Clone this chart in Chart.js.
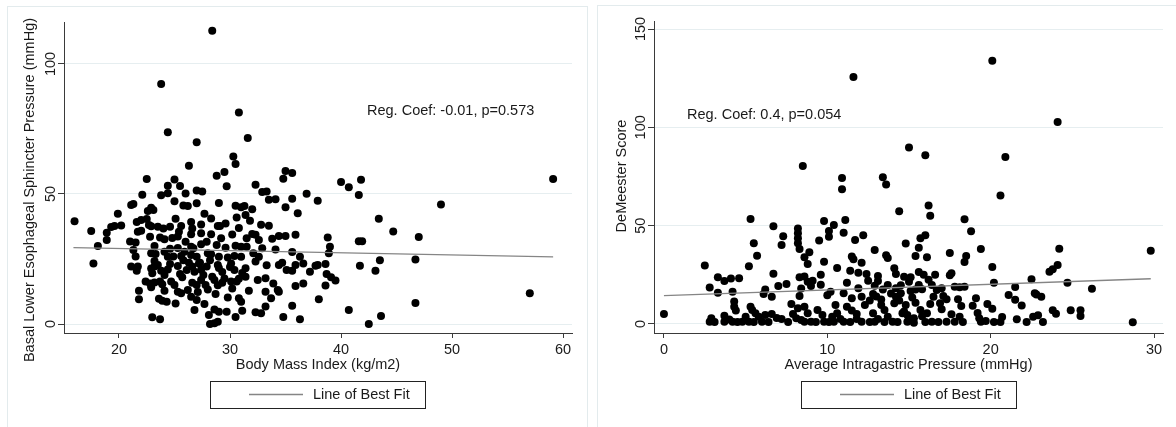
<!DOCTYPE html>
<html>
<head>
<meta charset="utf-8">
<script src="https://cdn.jsdelivr.net/npm/chart.js@4.4.1/dist/chart.umd.min.js"></script>
<style>
  html, body { margin: 0; padding: 0; background: #fff; }
  #wrap { position: relative; width: 1176px; height: 427px; overflow: hidden; }
  .frame { position: absolute; box-sizing: border-box; border: 1px solid #e3ebed; height: 460px; }
  canvas { position: absolute; top: 0; }
</style>
</head>
<body>
<div id="wrap">
  <div class="frame" style="left:7px;top:6px;width:581px"></div>
  <div class="frame" style="left:597px;top:5px;width:620px"></div>
  <canvas id="bmiChart" width="588" height="427" style="left:0"></canvas>
  <canvas id="pressureChart" width="586" height="427" style="left:590px"></canvas>
</div>
<script>
// BMI vs basal LES pressure
var bmi = [16.0,17.5,17.7,18.1,18.9,18.9,19.3,19.6,19.9,20.2,21.1,21.3,21.6,22.0,22.5,22.0,22.7,22.9,23.5,24.0,
  24.6,25.1,25.6,26.5,26.6,27.4,27.7,28.3,28.9,29.1,29.6,30.6,30.8,21.7,21.0,21.5,22.8,23.2,23.7,24.1,
  24.8,25.3,26.5,27.4,28.3,27.4,26.5,26.7,28.8,29.6,30.5,31.0,21.3,21.5,22.9,23.3,24.1,24.4,24.9,25.3,
  25.6,25.9,26.5,27.0,27.2,28.0,28.3,29.0,29.8,30.4,31.0,21.1,21.6,21.7,22.9,23.2,23.5,23.8,24.1,24.6,
  25.3,25.5,26.3,26.6,26.8,27.3,27.4,27.9,28.4,28.9,29.0,29.3,30.1,30.4,30.8,31.1,22.4,22.8,22.9,23.2,
  23.7,23.9,24.1,24.7,25.0,25.3,25.6,25.7,26.2,26.6,27.0,27.4,27.8,28.0,28.6,28.9,29.3,30.1,30.2,30.6,
  30.8,31.0,21.8,21.8,23.6,23.9,24.3,25.1,26.5,27.0,26.8,27.7,28.6,29.0,29.7,28.1,30.5,23.0,23.7,28.2,
  28.6,28.9,28.4,23.8,24.4,27.0,30.8,31.6,30.3,30.5,26.3,28.8,29.5,22.5,25.0,24.4,25.5,26.0,27.0,27.5,
  29.7,22.1,23.8,24.4,25.0,25.8,26.2,27.0,29.0,30.5,31.0,22.9,23.1,22.6,35.0,35.6,34.8,32.3,32.9,33.3,
  33.5,34.1,35.6,36.9,37.9,35.0,36.1,40.0,40.7,41.8,41.6,43.4,44.7,47.0,31.3,32.0,31.4,31.8,33.5,32.0,
  32.3,32.6,33.8,34.4,35.0,35.9,38.8,39.0,38.9,41.6,41.9,31.5,32.9,34.1,35.6,36.3,32.1,32.6,32.3,33.3,
  34.4,34.7,35.1,35.9,36.6,35.6,37.2,37.7,37.9,38.6,38.7,39.1,39.5,41.7,43.5,43.1,46.7,31.4,31.4,32.5,
  33.2,33.9,34.3,34.4,33.2,33.7,31.7,35.9,36.6,38.6,38.0,35.6,33.2,32.3,32.8,31.1,34.8,36.3,40.7,42.5,
  43.6,46.7,49.0,57.0,59.1,23.0,24.4,25.8,26.1,27.6,28.2,29.5,24.6,27.9,29.2,30.2,25.4,23.2,26.0,28.7,
  27.1,29.8,30.0,31.5,32.8]
var lesPressure = [39.5,35.8,23.3,30.0,35.1,32.3,37.3,37.7,42.4,37.9,45.8,46.2,39.2,40.0,40.4,35.9,38.1,37.6,37.4,36.7,
  37.4,40.5,37.7,39.2,36.7,38.3,42.4,40.6,37.7,37.7,38.7,41.0,36.9,35.5,31.7,31.3,33.6,30.0,33.3,32.6,
  33.1,33.7,34.5,34.9,34.5,30.7,29.7,29.1,30.4,29.3,30.1,29.7,28.5,26.0,27.2,26.9,27.8,25.9,26.0,29.2,
  26.2,27.8,26.5,25.9,23.3,27.2,26.8,25.9,25.6,26.2,25.9,22.1,20.5,22.1,21.3,22.1,22.7,20.5,18.8,23.1,
  22.3,19.2,23.6,22.1,20.1,23.6,20.9,22.1,18.2,22.7,21.5,20.0,23.3,20.8,17.4,19.6,16.3,15.6,14.1,16.0,
  16.3,15.3,12.8,16.3,15.0,12.4,11.8,18.0,13.1,15.9,15.0,16.9,15.0,13.3,16.9,14.9,15.9,16.3,13.7,16.3,
  9.9,8.6,12.8,9.5,9.7,8.9,8.6,7.9,10.5,9.2,5.4,7.7,5.6,4.7,4.7,3.5,2.7,2.6,1.8,0.0,
  0.3,0.9,112.8,92.3,73.7,69.9,81.3,71.5,64.4,61.5,60.9,57.0,58.5,55.8,55.6,53.2,53.1,50.2,51.3,51.0,
  53.0,49.7,49.5,50.3,47.2,45.6,45.4,46.4,46.5,45.5,44.9,44.7,43.8,43.5,58.8,58.1,55.9,53.6,50.8,51.0,
  47.8,48.0,48.2,50.1,47.4,44.9,42.6,54.6,52.6,55.5,49.6,40.5,35.6,33.5,45.4,44.1,41.9,39.7,37.8,34.6,
  34.3,32.3,32.8,33.8,33.8,34.3,33.3,29.7,27.2,31.8,31.8,29.7,29.1,28.7,27.7,25.9,27.2,25.9,24.0,22.6,
  22.7,23.6,20.8,22.7,23.3,20.5,20.1,22.4,22.7,23.1,19.2,18.0,16.7,22.4,24.5,20.5,24.8,21.4,18.2,16.9,
  17.6,15.6,13.1,12.4,12.4,9.9,12.8,14.6,15.6,14.8,9.5,7.0,6.7,4.5,4.1,5.1,2.7,1.8,5.4,0.0,
  3.1,8.1,46.0,11.8,55.8,19.5,21.0,24.5,20.8,18.8,24.5,17.5,28.9,31.6,33.0,34.4,35.5,24.2,31.6,11.5,
  12.3,10.2,21.9,33.0,38.2]
var bmiFit = [15.9, 59.1]
var lesFit = [29.4, 25.8]
var bmiTicks = [20, 30, 40, 50, 60]
var lesTicks = [0, 50, 100]

// average intragastric pressure vs DeMeester score
var gastricPressure = [0.0,2.5,2.8,2.8,2.9,3.3,3.3,3.7,4.1,4.6,4.2,4.3,4.3,4.4,3.7,3.7,4.2,4.8,5.0,5.3,
  5.4,5.6,5.2,5.8,6.0,6.2,6.6,7.2,5.2,5.5,5.7,5.3,6.7,7.3,7.2,6.7,7.5,7.0,6.2,6.1,
  6.6,8.2,8.2,8.2,8.2,8.3,8.5,8.6,8.9,8.8,9.8,10.1,10.4,11.1,11.0,10.1,9.5,11.7,12.2,12.9,
  10.9,10.9,13.4,13.6,14.4,11.6,9.8,10.6,11.5,11.6,12.1,13.6,13.7,8.3,8.6,8.8,9.1,9.0,8.3,8.4,
  9.6,9.6,10.0,10.2,11.2,11.0,11.4,11.9,12.4,12.5,13.1,13.1,13.7,14.1,14.2,14.2,11.9,12.1,12.8,11.5,
  14.2,7.8,8.2,7.9,8.1,8.6,8.8,8.6,9.0,9.4,9.7,9.8,10.3,10.5,10.6,10.4,11.0,11.2,11.5,11.8,
  12.1,12.3,12.8,12.9,13.3,13.5,13.7,14.1,14.0,14.6,16.0,20.9,20.6,16.2,16.3,18.4,18.8,15.0,20.1,24.1,
  14.8,15.6,15.7,16.0,15.4,16.1,17.5,18.5,18.4,19.4,20.1,24.2,24.1,23.8,23.6,29.8,15.6,15.9,15.1,16.6,
  17.5,17.6,20.2,22.5,24.7,26.2,14.5,15.1,15.6,15.8,16.4,16.7,17.0,17.8,18.1,18.4,14.5,16.5,17.1,17.3,
  18.0,19.1,21.1,21.5,21.5,21.9,22.7,22.8,23.1,15.4,14.8,16.3,16.9,18.2,18.9,19.8,20.1,17.0,17.6,18.1,
  19.2,19.3,19.7,20.7,20.6,21.6,22.6,22.9,23.2,23.8,24.0,24.9,25.5,25.5,28.7,14.7,14.9,15.3,15.7,15.8,
  16.1,16.4,17.3,17.8,19.4,14.9,15.3,3.1,4.0,4.5,5.5,6.4,6.9,7.6,8.4,9.3,10.1,10.8,11.4,11.8,
  12.6,13.1,13.5,14.3,15.0,16.0,16.8,18.3,20.2,22.2,12.6,13.0,13.3,13.9,14.4,15.2,15.0,13.4,12.9,14.7,
  15.4,16.2]
var demeester = [5.1,29.7,18.6,1.2,2.9,23.8,15.9,21.9,23.1,23.2,16.4,11.4,8.8,6.8,4.2,1.2,1.2,1.2,3.7,8.8,
  7.1,5.4,1.2,3.7,1.2,4.6,5.1,2.5,29.3,41.0,34.7,53.4,49.7,44.6,40.2,25.6,20.3,19.3,17.6,15.3,
  13.9,48.5,46.1,43.6,41.0,38.1,80.4,33.9,36.5,30.5,52.4,47.3,50.4,52.9,46.4,44.4,42.4,42.7,45.1,37.6,
  74.3,68.5,74.6,70.9,57.3,125.6,31.7,28.5,34.3,32.9,31.2,34.9,33.6,23.8,24.2,21.5,22.0,19.3,14.2,18.1,
  25.1,20.0,14.6,16.4,21.0,15.6,27.1,26.1,25.4,22.0,24.4,21.9,19.8,28.3,25.4,18.2,18.2,13.9,15.3,13.1,
  13.9,10.2,8.0,5.1,2.9,8.8,5.4,1.2,1.2,7.1,4.6,1.2,3.7,9.7,5.4,1.2,1.2,8.8,6.8,5.1,
  1.2,9.7,5.4,1.2,9.7,7.1,3.7,10.5,1.2,5.4,85.8,84.9,65.4,60.3,55.1,53.3,47.1,89.7,133.9,102.7,
  40.9,38.8,43.6,45.1,34.6,33.9,36.1,34.6,31.5,38.1,29.0,38.3,30.0,27.8,26.6,37.3,26.4,25.1,23.8,25.1,
  24.8,25.8,21.0,22.8,21.0,17.9,19.7,16.8,19.8,17.7,19.8,17.3,18.2,19.0,18.7,19.0,15.6,13.9,14.2,12.6,
  12.6,13.1,14.8,18.8,12.3,9.4,15.6,15.0,13.9,10.8,9.7,10.2,10.5,9.2,9.3,10.2,7.8,7.5,4.9,3.7,
  5.6,2.9,1.5,3.6,1.0,2.4,3.7,4.4,1.0,7.0,5.2,7.0,7.0,4.1,0.9,6.3,4.6,2.9,7.1,3.9,
  5.4,1.2,1.2,1.2,1.2,1.2,0.6,1.0,2.3,1.0,1.0,1.0,3.0,1.0,2.0,1.0,1.0,2.5,1.0,2.5,
  1.0,2.5,1.0,1.0,2.5,1.0,1.0,1.0,1.0,1.0,12.0,14.0,12.5,15.5,12.0,13.5,21.5,17.5,19.5,24.0,
  17.5,22.5]
var pressureFit = [0.0, 29.8]
var demeesterFit = [14.4, 23.0]
var pressureTicks = [0, 10, 20, 30]
var demeesterTicks = [0, 50, 100, 150]

var textColor = '#1a1a1a'
var axisColor = '#3a3a3a'
var gridColor = '#e6eef0'
var font = '14.5px "Liberation Sans", Arial, sans-serif'

Chart.defaults.font.family = '"Liberation Sans", Arial, sans-serif'
Chart.defaults.font.size = 14.5
Chart.defaults.color = textColor

function toPoints(xs, ys) {
  return xs.map(function (x, i) { return {x: x, y: ys[i]} })
}

// rotated y labels and y title, the regression note and the boxed legend
var panelText = {
  id: 'panelText',
  afterDraw: function (chart, args, opts) {
    var ctx = chart.ctx
    var area = chart.chartArea
    var sx = chart.scales.x
    var sy = chart.scales.y
    ctx.save()
    ctx.fillStyle = textColor
    ctx.font = font
    ctx.textAlign = 'center'
    ctx.textBaseline = 'middle'
    sy.ticks.forEach(function (t) {
      ctx.save()
      ctx.translate(area.left - 13, sy.getPixelForValue(t.value))
      ctx.rotate(-Math.PI / 2)
      ctx.fillText(String(t.value), 0, 0)
      ctx.restore()
    })
    ctx.save()
    ctx.translate(opts.titleX, opts.titleY)
    ctx.rotate(-Math.PI / 2)
    ctx.fillText(opts.yTitle, 0, 0)
    ctx.restore()

    ctx.textAlign = 'left'
    ctx.fillText(opts.note, sx.getPixelForValue(opts.noteAt[0]), sy.getPixelForValue(opts.noteAt[1]))

    var fit = chart.data.datasets[1]
    var cx = Math.round((area.left + area.right) / 2)
    var cy = area.bottom + 61.5
    ctx.strokeStyle = '#222'
    ctx.lineWidth = 1
    ctx.strokeRect(cx - 107.5, cy - 13, 215, 27)
    ctx.strokeStyle = fit.borderColor
    ctx.lineWidth = fit.borderWidth
    ctx.beginPath()
    ctx.moveTo(cx - 69, cy)
    ctx.lineTo(cx - 15, cy)
    ctx.stroke()
    ctx.fillText(fit.label, cx - 5, cy)
    ctx.restore()
  }
}

function scatterPanel(id, p) {
  return new Chart(document.getElementById(id), {
    type: 'scatter',
    data: {
      datasets: [{
        label: 'obs',
        data: toPoints(p.x, p.y),
        backgroundColor: '#000',
        borderWidth: 0,
        pointRadius: 4,
        order: 1
      }, {
        label: 'Line of Best Fit',
        data: toPoints(p.fitX, p.fitY),
        showLine: true,
        borderColor: '#858585',
        borderWidth: 1.3,
        pointRadius: 0,
        order: 0
      }]
    },
    options: {
      responsive: false,
      animation: false,
      events: [],
      layout: { padding: { top: p.top, right: p.right, bottom: 50, left: 0 } },
      plugins: {
        legend: { display: false },
        tooltip: { enabled: false },
        panelText: { yTitle: p.yTitle, titleX: p.titleX, titleY: p.titleY, note: p.note, noteAt: p.noteAt }
      },
      scales: {
        x: {
          type: 'linear',
          min: p.xMin,
          max: p.xMax,
          afterBuildTicks: function (s) { s.ticks = p.xTicks.map(function (v) { return {value: v} }) },
          afterFit: function (s) { s.height = 44 },
          grid: { drawOnChartArea: false, tickLength: 5, tickColor: axisColor },
          border: { color: axisColor, width: 1 },
          ticks: { padding: 3, color: textColor, maxRotation: 0, autoSkip: false },
          title: { display: true, text: p.xTitle, color: textColor, padding: { top: 0, bottom: 3.3 } }
        },
        y: {
          type: 'linear',
          min: p.yMin,
          max: p.yMax,
          afterBuildTicks: function (s) { s.ticks = p.yTicks.map(function (v) { return {value: v} }) },
          afterFit: function (s) { s.width = 64 },
          grid: { color: gridColor, tickLength: 6, tickColor: axisColor },
          border: { color: axisColor, width: 1 },
          ticks: { display: false }
        }
      }
    },
    plugins: [panelText]
  })
}

scatterPanel('bmiChart', {
  x: bmi, y: lesPressure, fitX: bmiFit, fitY: lesFit,
  xTicks: bmiTicks, yTicks: lesTicks,
  xMin: 15.05, xMax: 60.8, yMin: -3.46, yMax: 116.15,
  top: 22, right: 16,
  xTitle: 'Body Mass Index (kg/m2)',
  yTitle: 'Basal Lower Esophageal Sphincter Pressure (mmHg)', titleX: 29.5, titleY: 190,
  note: 'Reg. Coef: -0.01, p=0.573', noteAt: [42.34, 82.1]
})

scatterPanel('pressureChart', {
  x: gastricPressure, y: demeester, fitX: pressureFit, fitY: demeesterFit,
  xTicks: pressureTicks, yTicks: demeesterTicks,
  xMin: -0.61, xMax: 30.55, yMin: -4.58, yMax: 154.07,
  top: 21, right: 13,
  xTitle: 'Average Intragastric Pressure (mmHg)',
  yTitle: 'DeMeester Score', titleX: 32, titleY: 176,
  note: 'Reg. Coef: 0.4, p=0.054', noteAt: [1.41, 106.3]
})
</script>
</body>
</html>
